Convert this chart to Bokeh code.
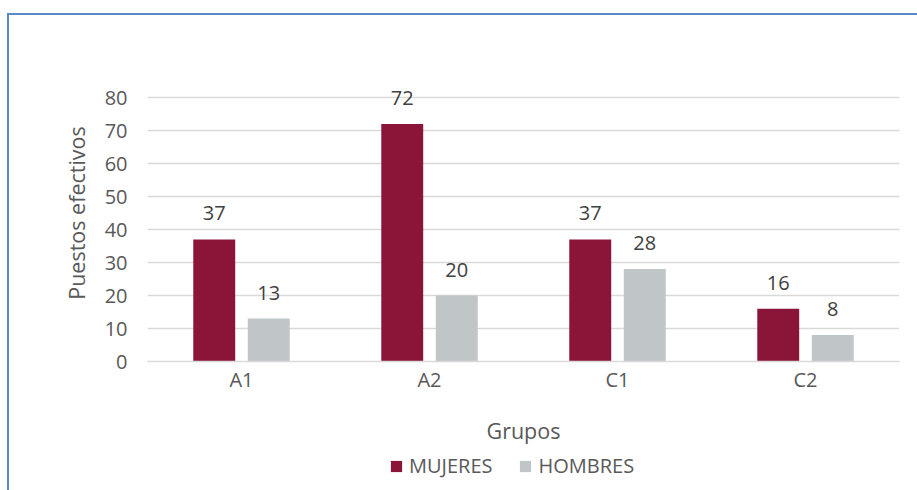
from bokeh.plotting import figure
from bokeh.layouts import column
from bokeh.models import ColumnDataSource, Legend, LegendItem, FactorRange, FixedTicker, LabelSet, Range1d
from bokeh.core.properties import value
from bokeh.transform import dodge
from bokeh.embed import file_html
from bokeh.resources import INLINE

categories = ["A1", "A2", "C1", "C2"]
mujeres = [37, 72, 37, 16]
hombres = [13, 20, 28, 8]
series_names = ["MUJERES", "HOMBRES"]
y_ticks = [0, 10, 20, 30, 40, 50, 60, 70, 80]

FONT = "Open Sans"
TXT = "#595959"
C_M, C_H = "#8B1538", "#C0C5C8"

src = ColumnDataSource(dict(cat=categories, m=mujeres, h=hombres,
                            ml=[str(v) for v in mujeres], hl=[str(v) for v in hombres]))

W = 908
xr = FactorRange(*categories)
p = figure(width=W, height=436, x_range=xr, y_range=(0, 90),
           output_backend="svg", toolbar_location=None,
           min_border_left=138, min_border_right=18, min_border_top=49, min_border_bottom=90)
p.outline_line_color = None
p.background_fill_color = "white"
p.border_fill_color = "white"

r1 = p.vbar(x=dodge("cat", -0.145, range=xr), top="m", width=0.223, source=src,
            fill_color=C_M, line_color=None)
r2 = p.vbar(x=dodge("cat", 0.145, range=xr), top="h", width=0.223, source=src,
            fill_color=C_H, line_color=None)

for col, lab, off in (("m", "ml", -0.145), ("h", "hl", 0.145)):
    ls = LabelSet(x=dodge("cat", off, range=xr), y=col, text=lab, source=src,
                  text_align="center", text_baseline="bottom", y_offset=19,
                  text_font=value(FONT), text_font_size="20px", text_color="#404040")
    p.add_layout(ls)

p.ygrid.ticker = FixedTicker(ticks=y_ticks)
p.ygrid.grid_line_color = "#D9D9D9"
p.ygrid.grid_line_width = 1.5
p.xgrid.grid_line_color = None

p.yaxis.ticker = FixedTicker(ticks=y_ticks)
p.yaxis.axis_line_color = None
p.yaxis.major_tick_line_color = None
p.yaxis.minor_tick_line_color = None
p.yaxis.major_label_standoff = 14
p.yaxis.major_label_text_font = FONT
p.yaxis.major_label_text_font_size = "20px"
p.yaxis.major_label_text_color = TXT
p.yaxis.axis_label = "Puestos efectivos"
p.yaxis.axis_label_text_font = FONT
p.yaxis.axis_label_text_font_size = "21.5px"
p.yaxis.axis_label_text_font_style = "normal"
p.yaxis.axis_label_text_color = TXT
p.yaxis.axis_label_standoff = 11

p.xaxis.axis_line_color = "#D9D9D9"
p.xaxis.axis_line_width = 1.5
p.xaxis.major_tick_line_color = None
p.xaxis.minor_tick_line_color = None
p.xaxis.major_label_standoff = -2
p.xaxis.major_label_text_font = FONT
p.xaxis.major_label_text_font_size = "20px"
p.xaxis.major_label_text_color = TXT
p.xaxis.axis_label = "Grupos"
p.xaxis.axis_label_text_font = FONT
p.xaxis.axis_label_text_font_size = "21.5px"
p.xaxis.axis_label_text_font_style = "normal"
p.xaxis.axis_label_text_color = TXT
p.xaxis.axis_label_standoff = 20

# Legend strip below the chart (its bars lie outside its visible range)
lg = figure(width=W, height=39, x_range=xr, y_range=Range1d(1000, 1001),
            output_backend="svg", toolbar_location=None, min_border=0)
lg.outline_line_color = None
lg.axis.visible = False
lg.grid.visible = False
lg.border_fill_color = "white"
lg.background_fill_color = "white"
g1 = lg.vbar(x=dodge("cat", -0.145, range=xr), top="m", width=0.223, source=src,
             fill_color=C_M, line_color=None)
g2 = lg.vbar(x=dodge("cat", 0.145, range=xr), top="h", width=0.223, source=src,
             fill_color=C_H, line_color=None)
legend = Legend(items=[LegendItem(label=series_names[0], renderers=[g1]),
                       LegendItem(label=series_names[1], renderers=[g2])],
                orientation="horizontal", location=(242, 11),
                label_text_font=FONT, label_text_font_size="20px", label_text_color=TXT,
                glyph_width=14, glyph_height=14, spacing=26, padding=0, margin=0,
                label_standoff=6, border_line_color=None, background_fill_alpha=0)
lg.add_layout(legend, "center")

layout = column(p, lg, spacing=0)
layout.styles = {"border-left": "2px solid #5A8AC6", "border-top": "2px solid #5A8AC6",
                 "position": "relative", "left": "7px", "top": "13px"}

open("out.html", "w").write(file_html(layout, INLINE))
